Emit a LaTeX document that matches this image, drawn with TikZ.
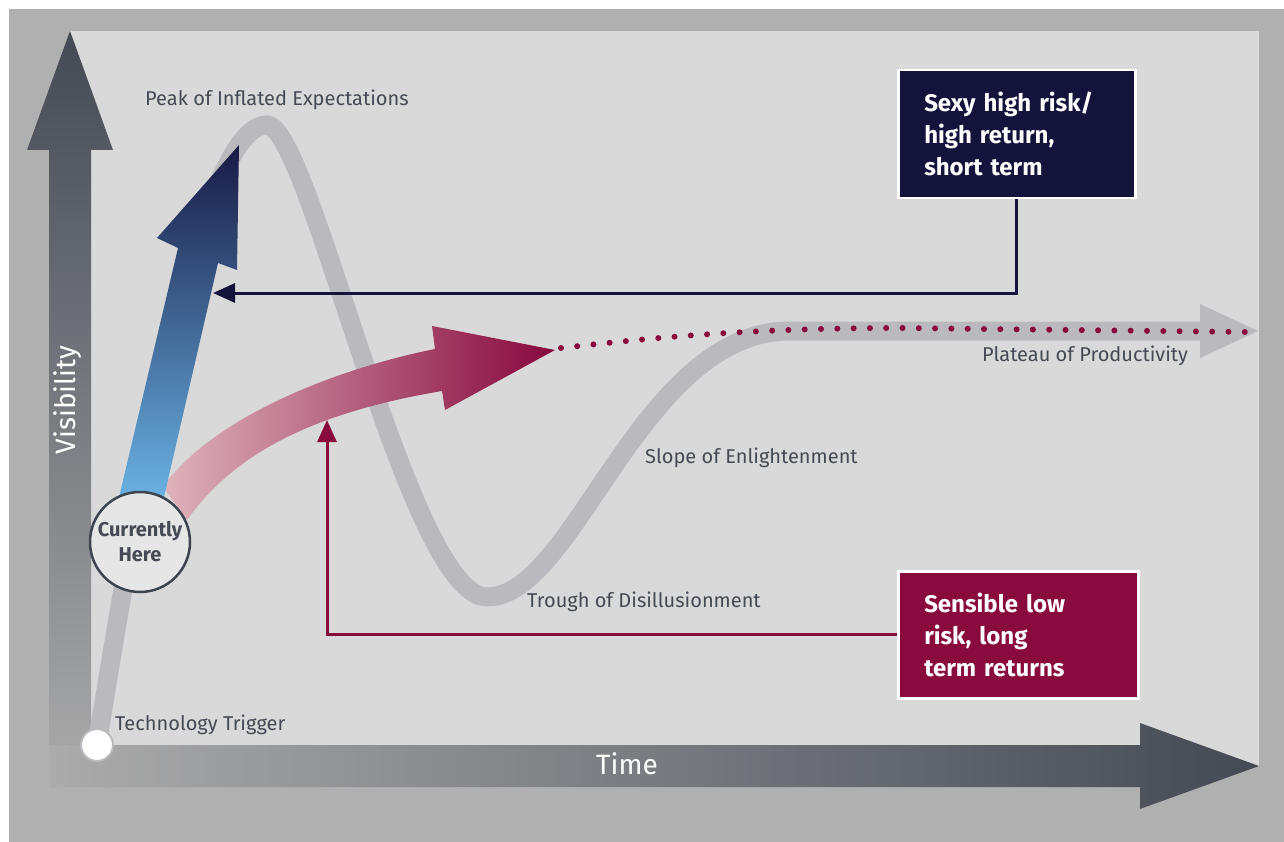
\documentclass[tikz,border=0pt]{standalone}
\usepackage{fontspec}
\setmainfont{Fira Sans}
\usetikzlibrary{arrows.meta}
\definecolor{outergrey}{HTML}{B0B0B0}
\definecolor{panel}{HTML}{D9D9D9}
\definecolor{axisdark}{HTML}{444A54}
\definecolor{axislight}{HTML}{ABABAB}
\definecolor{curvecol}{HTML}{BAB9BE}
\definecolor{navy}{HTML}{13133B}
\definecolor{crimson}{HTML}{890B3E}
\definecolor{labeltext}{HTML}{454A54}
\definecolor{circborder}{HTML}{3C4450}
\definecolor{circfill}{HTML}{E6E6E6}
\definecolor{bluetop}{HTML}{181A44}
\definecolor{bluemid}{HTML}{2F5A92}
\definecolor{bluebot}{HTML}{6CB6E8}
\definecolor{redleft}{HTML}{DEB3BC}
\definecolor{redmid}{HTML}{A84A68}
\definecolor{redright}{HTML}{87083C}
\tikzset{
  phase/.style={inner sep=0pt, anchor=west, text=labeltext, font=\fontsize{20}{22}\selectfont},
  axislabel/.style={inner sep=0pt, text=white, font=\fontsize{28}{30}\selectfont},
  infobox/.style={draw=white, line width=2.5pt, anchor=north west, inner xsep=26pt, inner ysep=0pt,
    text=white, align=left, font=\fontsize{24}{32}\selectfont\bfseries},
  hype/.style={draw=curvecol, line width=19pt},
  conn/.style={line width=3pt, -{Triangle[length=22pt,width=19pt]}},
}
\begin{document}
\begin{tikzpicture}[x=1pt,y=-1pt]
\useasboundingbox (0,0) rectangle (1284,842);
\fill[white] (0,0) rectangle (1284,842);
\fill[outergrey] (9,9) rectangle (1284,842);
\fill[panel] (70,31) rectangle (1259,766);
% axes
\shade[top color=axisdark, bottom color=axislight]
  (49,787) -- (49,150) -- (27,150) -- (70,31) -- (113,150) -- (91,150) -- (91,787) -- cycle;
\shade[left color=axislight, right color=axisdark]
  (49,745) -- (1140,745) -- (1140,723) -- (1259,766) -- (1140,809) -- (1140,787) -- (49,787) -- cycle;
\node[axislabel, rotate=90] (vis) at (68,400) {Visibility};
\node[axislabel] (time) at (627,764) {Time};
% hype curve
\draw[hype] (97,745) .. controls (140,480) and (200,125) .. (267,125)
  .. controls (310,125) and (408,597) .. (487,597)
  .. controls (575,597) and (640,331) .. (790,331) -- (1202,331);
\fill[curvecol] (1200,304) -- (1258,331) -- (1200,358) -- cycle;
% red arrow
\shade[left color=redleft, middle color=redmid, right color=redright]
  (163,487) .. controls (210,420) and (330,370) .. (435,349) -- (432,326) -- (555,350)
  -- (445,410) -- (442,391) .. controls (330,410) and (240,445) .. (187,520) -- cycle;
% dotted continuation
\draw[crimson, line width=6pt, line cap=round, dash pattern=on 0pt off 16.3pt]
  (561,348) .. controls (650,338) and (750,328) .. (900,328) -- (1245,332);
% blue arrow
\shade[top color=bluetop, middle color=bluemid, bottom color=bluebot]
  (116,510) -- (178,248) -- (157,238) -- (239,145) -- (237,270) -- (218,263) -- (161,510) -- cycle;
% phase labels
\node[phase] (peak) at (145,100) {Peak of Inflated Expectations};
\node[phase] (trig) at (115,725) {Technology Trigger};
\node[phase] (trough) at (527,602) {Trough of Disillusionment};
\node[phase] (slope) at (645,458) {Slope of Enlightenment};
\node[phase] (plat) at (982,356) {Plateau of Productivity};
% markers
\node[circle, fill=white, draw=curvecol, line width=2pt, minimum size=32pt, inner sep=0pt] (origin) at (97,745) {};
\node[circle, draw=circborder, line width=2.5pt, fill=circfill, minimum size=100pt, inner sep=0pt,
  align=center, text=labeltext, font=\fontsize{20}{25}\selectfont\bfseries] (here) at (140,542) {Currently\\Here};
% boxes
\node[infobox, fill=navy, minimum width=237pt, minimum height=128pt, text width=185pt] (sexy) at (897,69)
  {Sexy high risk/\\high return,\\short term};
\node[infobox, fill=crimson, minimum width=240pt, minimum height=127pt, text width=188pt] (sens) at (897,570)
  {Sensible low\\risk, long\\term returns};
% connectors
\coordinate (blueend) at (213,293);
\coordinate (redend) at (327,420);
\draw[conn, navy] (sexy.south) |- (blueend);
\draw[conn, crimson] (sens.west) -| (redend);
\end{tikzpicture}
\end{document}
